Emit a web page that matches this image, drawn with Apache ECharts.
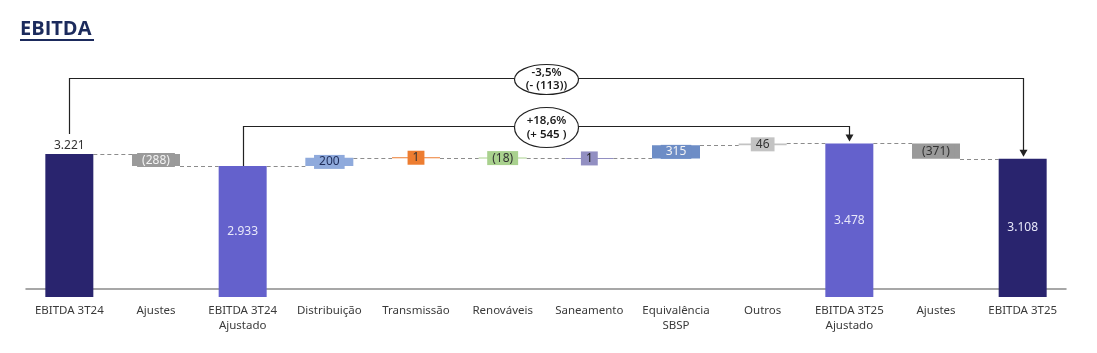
<!DOCTYPE html>
<html>
<head>
<meta charset="utf-8">
<script src="https://cdn.jsdelivr.net/npm/echarts@6/dist/echarts.min.js"></script>
<style>
	html, body { margin: 0; padding: 0; background: #fff; }
	#chart { width: 1097px; height: 353px; }
</style>
</head>
<body>
<div id="chart"></div>
<script>
'use strict';

// dados
var categories = ['EBITDA 3T24', 'Ajustes', 'EBITDA 3T24\nAjustado', 'Distribuição', 'Transmissão', 'Renováveis',
	'Saneamento', 'Equivalência\nSBSP', 'Outros', 'EBITDA 3T25\nAjustado', 'Ajustes', 'EBITDA 3T25'];
var values = [3221, -288, 2933, 200, 1, -18, 1, 315, 46, 3478, -371, 3108];
var isTotal = [true, false, true, false, false, false, false, false, false, true, false, true];
var bracketFrom = [0, 2];
var bracketTo = [11, 9];
var bracketPct = ['-3,5%', '+18,6%'];
var bracketDiff = ['(- (113))', '(+ 545 )'];

// estilos
var colors = ['#29246e', '#9a9a9a', '#6461cc', '#8faadc', '#ed7d31', '#a9d18e', '#928fc2', '#6d8dc6', '#c3c3c3', '#6461cc', '#9a9a9a', '#29246e'];
var labelColors = ['#333', '#f4f4f4', '#e8e8fa', '#1f2d5a', '#333', '#333', '#222', '#f4f4f4', '#333', '#e8e8fa', '#333', '#e8e8fa'];
var Y_MIN = -210, Y_MAX = 5960;
var BAR_W = 48;
var BRACKET_Y = [38, 86]; // px abaixo do topo do grid
var ELLIPSE_RY = [15, 20];
var FONT = '"Noto Sans", "Open Sans", sans-serif';

function fmt(v) {
	var s = Math.abs(v).toString().replace(/\B(?=(\d{3})+(?!\d))/g, '.');
	return v < 0 ? '(' + s + ')' : s;
}

// monta as barras flutuantes
var barData = [], linkData = [];
var level = 0;
for (var i = 0; i < values.length; i++) {
	var v = values[i];
	if (isTotal[i]) {
		barData.push([i, Y_MIN, v]);
		level = v;
	} else {
		barData.push([i, Math.min(level, level + v), Math.max(level, level + v)]);
		level += v;
	}
	if (i < values.length - 1) linkData.push([i, level]);
}
var bracketData = bracketFrom.map(function (f, k) {
	return [f, bracketTo[k], values[f], values[bracketTo[k]]];
});

function renderBar(params, api) {
	var i = api.value(0);
	var lo = api.coord([i, api.value(1)]);
	var hi = api.coord([i, api.value(2)]);
	var y0 = hi[1], h = lo[1] - hi[1];
	if (h < 1) { y0 = (lo[1] + hi[1]) / 2 - 0.5; h = 1; }
	var k = params.dataIndex;
	var children = [{
		type: 'rect',
		shape: { x: hi[0] - BAR_W / 2, y: y0, width: BAR_W, height: h },
		style: { fill: colors[k] }
	}];
	var txt;
	if (isTotal[k]) {
		var above = k === 0;
		txt = {
			type: 'text',
			style: {
				text: fmt(values[k]), x: hi[0], y: above ? y0 - 9 : y0 + h / 2,
				align: 'center', verticalAlign: 'middle',
				fill: above ? '#333' : labelColors[k], font: '12px ' + FONT
			}
		};
	} else {
		txt = {
			type: 'text',
			style: {
				text: fmt(values[k]), x: hi[0], y: y0 + h / 2,
				align: 'center', verticalAlign: 'middle',
				fill: labelColors[k], font: '12px ' + FONT,
				backgroundColor: colors[k], padding: [1, 5, 0, 5], lineHeight: 13
			}
		};
	}
	children.push(txt);
	return { type: 'group', children: children };
}

function renderLink(params, api) {
	var i = api.value(0);
	var a = api.coord([i, api.value(1)]);
	var b = api.coord([i + 1, api.value(1)]);
	var y = Math.round(a[1]) + 0.5;
	return {
		type: 'line',
		shape: { x1: a[0] + BAR_W / 2, y1: y, x2: b[0] - BAR_W / 2, y2: y },
		style: { stroke: '#8c8c8c', lineWidth: 1, lineDash: [4, 3] }
	};
}

function renderBracket(params, api) {
	var k = params.dataIndex;
	var p0 = api.coord([api.value(0), api.value(2)]);
	var p1 = api.coord([api.value(1), api.value(3)]);
	var yTop = params.coordSys.y + BRACKET_Y[k] + 0.5;
	var x0 = Math.round(p0[0]) + 0.5, x1 = Math.round(p1[0]) + 0.5;
	var yStart = p0[1] - (api.value(0) === 0 ? 20 : 0);
	var tip = p1[1] - 2;
	var cx = (x0 + x1) / 2;
	var line = { stroke: '#222', lineWidth: 1.2, fill: null };
	return {
		type: 'group',
		children: [
			{ type: 'polyline', shape: { points: [[x0, yStart], [x0, yTop], [x1, yTop], [x1, tip - 6]] }, style: line },
			{ type: 'polygon', shape: { points: [[x1 - 4, tip - 7], [x1 + 4, tip - 7], [x1, tip]] }, style: { fill: '#222' } },
			{ type: 'ellipse', shape: { cx: cx, cy: yTop + 1, rx: 32, ry: ELLIPSE_RY[k] }, style: { fill: '#fff', stroke: '#222', lineWidth: 1.2 } },
			{
				type: 'text',
				style: {
					text: bracketPct[k] + '\n' + bracketDiff[k], x: cx, y: yTop + 1,
					align: 'center', verticalAlign: 'middle', lineHeight: k === 0 ? 13 : 14,
					fill: '#1a1a1a', font: '600 11.5px ' + FONT
				}
			}
		]
	};
}

var myChart = echarts.init(document.getElementById('chart'));
var option = {
	animation: false,
	graphic: [
		{ type: 'text', left: 20, top: 19, style: { text: 'EBITDA', fill: '#1b2a5c', font: 'bold 20px "Open Sans", sans-serif' } },
		{ type: 'rect', left: 20, top: 39, shape: { width: 74, height: 2 }, style: { fill: '#1b2a5c' } }
	],
	grid: { left: 26, right: 31, top: 40, bottom: 56 },
	xAxis: {
		type: 'category',
		data: categories,
		axisTick: { show: false },
		axisLine: { lineStyle: { color: '#8a8a8a', width: 1.5 } },
		axisLabel: { color: '#3a3a3a', fontSize: 11.5, fontFamily: FONT, margin: 6, lineHeight: 15, interval: 0 }
	},
	yAxis: {
		type: 'value', min: Y_MIN, max: Y_MAX, show: false, splitLine: { show: false }
	},
	series: [
		{ type: 'custom', name: 'links', renderItem: renderLink, data: linkData, encode: { x: 0, y: 1 }, z: 1 },
		{ type: 'custom', name: 'barras', renderItem: renderBar, data: barData, encode: { x: 0, y: [1, 2] }, z: 2 },
		{ type: 'custom', name: 'variação', renderItem: renderBracket, data: bracketData, encode: { x: [0, 1], y: [2, 3] }, z: 3, clip: false }
	]
};
myChart.setOption(option);
</script>
</body>
</html>
